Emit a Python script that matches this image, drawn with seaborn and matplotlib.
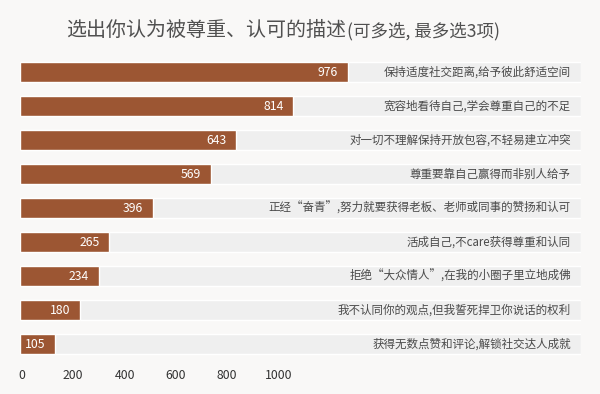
import matplotlib
matplotlib.use('Agg')
import matplotlib.pyplot as plt
import seaborn as sns
import pandas as pd

categories = ['保持适度社交距离,给予彼此舒适空间', '宽容地看待自己,学会尊重自己的不足',
              '对一切不理解保持开放包容,不轻易建立冲突', '尊重要靠自己赢得而非别人给予',
              '正经“奋青”,努力就要获得老板、老师或同事的赞扬和认可', '活成自己,不care获得尊重和认同',
              '拒绝“大众情人”,在我的小圈子里立地成佛', '我不认同你的观点,但我誓死捍卫你说话的权利',
              '获得无数点赞和评论,解锁社交达人成就']
counts = [976, 814, 643, 569, 396, 265, 234, 180, 105]
tick_values = [0, 200, 400, 600, 800, 1000]
title_main = '选出你认为被尊重、认可的描述'
title_note = '(可多选, 最多选3项)'

bg = '#f9f8f7'
brown = '#9c5633'
track = '#efefef'

sns.set_theme(style='white')
plt.rcParams['font.family'] = ['Noto Sans CJK SC', 'DejaVu Sans']

df = pd.DataFrame({'label': categories, 'count': counts})
x_max = 1670
df['track'] = x_max

fig = plt.figure(figsize=(6, 3.94), dpi=100, facecolor=bg)
ax = fig.add_axes([20 / 600, 1 - 361 / 394, 561 / 600, 306 / 394])
ax.set_facecolor(bg)

sns.barplot(data=df, x='track', y='label', orient='h', color=track, width=0.59,
            saturation=1, ax=ax)
sns.barplot(data=df, x='count', y='label', orient='h', color=brown, width=0.59,
            saturation=1, ax=ax)
ax.set_xlim(0, x_max)
ax.set_ylim(len(categories) - 0.5, -0.5)

for i, (lab, v) in enumerate(zip(categories, counts)):
    ax.annotate(str(v), (v, i), xytext=(-7, 0), textcoords='offset points',
                ha='right', va='center', color='white', fontsize=8.8)
    ax.text(0.982, i, lab, transform=ax.get_yaxis_transform(), ha='right',
            va='center', color='#4a4a4a', fontsize=8.3)

ax.set_xlabel('')
ax.set_ylabel('')
ax.set_yticks([])
ax.set_xticks([])
sns.despine(ax=ax, left=True, bottom=True)

# the tick row of the original uses its own spacing
def to_tick(x):
    return (0.336 * x - 2) / 0.2565

def from_tick(s):
    return (0.2565 * s + 2) / 0.336

sec = ax.secondary_xaxis('bottom', functions=(to_tick, from_tick))
sec.set_xticks(tick_values)
sec.tick_params(length=0, pad=6, labelsize=8.8, labelcolor='#333333')
sec.spines['bottom'].set_visible(False)

t = fig.text(66 / 600, 1 - 36 / 394, title_main, fontsize=14.4, color='#505050', va='baseline')
fig.canvas.draw()
bb = t.get_window_extent()
fig.text((bb.x1 + 1) / fig.bbox.width, 1 - 36 / 394, title_note, fontsize=12.6,
         color='#505050', va='baseline')

fig.savefig('out.png', dpi=100, facecolor=bg)
